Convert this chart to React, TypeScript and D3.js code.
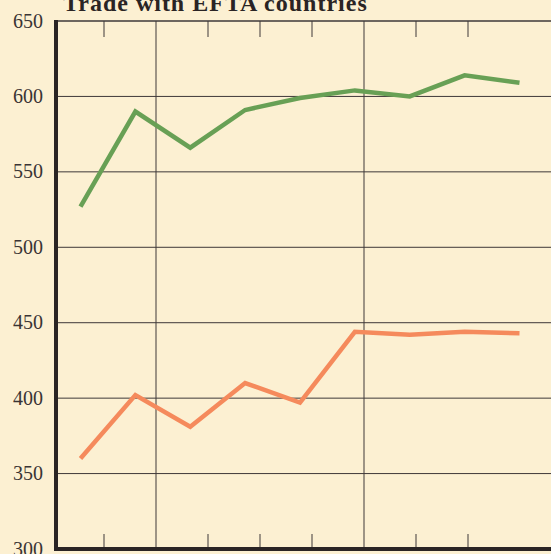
import React from "react";
import * as d3 from "d3";

const title = "Trade with EFTA countries";
const yTicks = [300, 350, 400, 450, 500, 550, 600, 650];
const periods = [0, 1, 2, 3, 4, 5, 6, 7, 8];
const green = [527, 590, 566, 591, 599, 604, 600, 614, 609];
const orange = [360, 402, 381, 410, 397, 444, 442, 444, 443];
const xTickIdx = [1, 2, 3, 4, 5, 6, 7, 8];
const xGridIdx = [2, 6];

const W = 551, H = 554;
const L = 56, T = 21, B = 549;

export default function App() {
  const y = d3.scaleLinear().domain([300, 650]).range([B, T]);
  const xd = d3.scaleLinear().domain([0, 8]).range([80.5, 519.5]);
  const xt = d3.scaleLinear().domain([0, 8]).range([52, 468]);
  const line = d3.line<number>().x((_, i) => xd(periods[i])).y((d) => y(d));
  const grid = "#3e3838";
  return (
    <div style={{ position: "fixed", left: 0, top: 0 }}>
      <svg width={W} height={H} style={{ display: "block", background: "#fcf0d2" }}>
        <rect x={0} y={0} width={W} height={H} fill="#fcf0d2" />
        <text x={63} y={11} fontFamily="'Liberation Serif', 'DejaVu Serif', serif" fontWeight="bold" fontSize={24} letterSpacing={1} fill="#2a2424">{title}</text>
        {yTicks.map((v) => (
          <g key={v}>
            {v !== 300 && <line x1={L} x2={W} y1={y(v)} y2={y(v)} stroke={grid} strokeWidth={v === 650 ? 1.4 : 1} />}
            <text x={43} y={y(v)} dy="0.33em" textAnchor="end" fontFamily="'Liberation Serif', serif" fontSize={20} fill="#3a3434">{v}</text>
          </g>
        ))}
        {xTickIdx.map((i) =>
          xGridIdx.includes(i) ? (
            <line key={i} x1={xt(i)} x2={xt(i)} y1={T} y2={B} stroke={grid} strokeWidth={1} />
          ) : (
            <g key={i}>
              <line x1={xt(i)} x2={xt(i)} y1={T} y2={T + 16} stroke={grid} strokeWidth={1} />
              <line x1={xt(i)} x2={xt(i)} y1={B} y2={B - 15} stroke={grid} strokeWidth={1} />
            </g>
          )
        )}
        <path d={line(green) || ""} fill="none" stroke="#68a055" strokeWidth={4.5} strokeLinejoin="miter" />
        <path d={line(orange) || ""} fill="none" stroke="#f58a5c" strokeWidth={4.5} strokeLinejoin="miter" />
        <line x1={L} x2={L} y1={T - 1} y2={B + 2} stroke="#2a2424" strokeWidth={4} />
        <line x1={L - 2} x2={W} y1={B} y2={B} stroke="#2a2424" strokeWidth={4} />
      </svg>
    </div>
  );
}
